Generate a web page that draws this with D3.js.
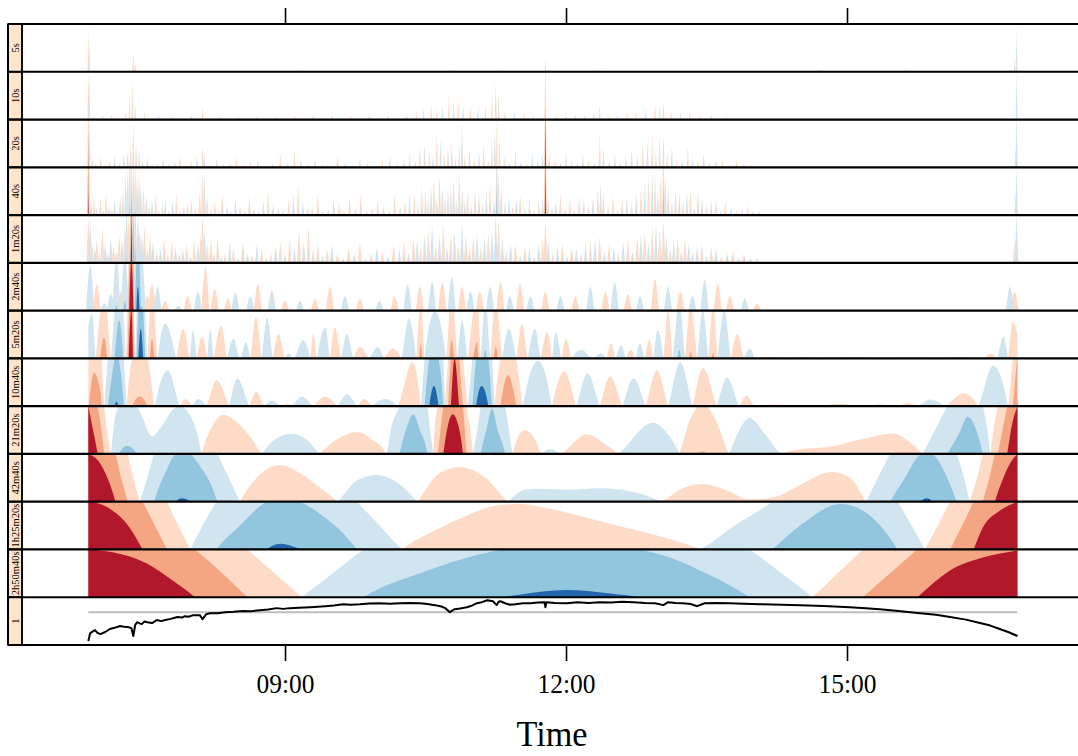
<!DOCTYPE html>
<html><head><meta charset="utf-8">
<script src="https://cdn.jsdelivr.net/npm/d3@7/dist/d3.min.js"></script>
<style>body{margin:0;background:#fff}svg{display:block}</style>
</head><body><svg id="chart" width="1078" height="756"></svg>
<script>
// ---------- DATA (time in decimal hours, value in horizon band units) ----------
const panelLabels = ["5s","10s","20s","40s","1m20s","2m40s","5m20s","10m40s","21m20s","42m40s","1h25m20s","2h50m40s","1"];
const tickHours = [9, 12, 15];

// fine scales: local extremes [hour, value]
const d5s = [[6.90,0.9],[6.91,-0.6],[7.38,0.45],[7.40,0.2],[9.16,0.04],[10.76,0.06],[11.30,-0.06],[11.78,0.25],[12.36,0.05],[14.71,0.08],[15.62,0.08],[16.79,0.3],[16.81,-0.9]];
const d10s = [[6.90,1.0],[6.91,-0.95],[6.96,0.1],[7.05,-0.1],[7.15,0.1],[7.30,0.2],[7.34,0.5],[7.37,0.85],[7.40,-0.3],[7.50,0.15],[7.65,-0.1],[7.80,0.1],[8.00,0.1],[8.12,0.25],[8.30,-0.1],[8.50,0.1],[8.70,0.08],[8.90,-0.08],[9.10,0.12],[9.30,-0.1],[9.50,0.1],[9.70,0.1],[9.90,-0.1],[10.10,0.12],[10.30,-0.15],[10.40,0.2],[10.48,-0.25],[10.56,0.3],[10.62,0.25],[10.68,-0.3],[10.75,0.55],[10.80,-0.4],[10.85,0.45],[10.90,-0.3],[10.98,0.3],[11.06,-0.25],[11.14,0.3],[11.21,0.55],[11.25,-0.8],[11.28,0.6],[11.35,0.2],[11.45,-0.15],[11.55,0.15],[11.65,-0.12],[11.78,1.3],[11.90,0.12],[12.00,-0.1],[12.10,0.12],[12.20,0.1],[12.30,-0.15],[12.36,0.3],[12.45,0.12],[12.55,-0.1],[12.65,0.15],[12.75,0.2],[12.85,-0.25],[12.95,0.35],[13.00,-0.3],[13.04,0.4],[13.12,0.2],[13.22,-0.15],[13.32,0.15],[13.42,0.12],[13.55,-0.1],[13.70,0.08],[16.81,-1.0]];
const d20s = [[6.90,1.8],[6.91,-1.0],[6.94,0.2],[6.98,-0.1],[7.03,0.25],[7.08,-0.08],[7.13,0.15],[7.18,-0.25],[7.23,0.1],[7.28,0.3],[7.32,-0.35],[7.35,0.5],[7.38,0.9],[7.41,-0.5],[7.44,0.35],[7.48,-0.15],[7.53,0.25],[7.58,-0.08],[7.64,0.1],[7.70,-0.2],[7.76,0.08],[7.82,-0.12],[7.88,0.25],[7.94,-0.05],[8.00,0.12],[8.06,-0.25],[8.12,0.45],[8.14,-0.3],[8.20,0.1],[8.27,-0.2],[8.34,0.08],[8.41,-0.1],[8.48,0.25],[8.56,-0.05],[8.63,0.12],[8.71,-0.15],[8.79,0.05],[8.87,-0.08],[8.95,0.3],[9.03,-0.1],[9.10,0.35],[9.17,-0.15],[9.24,0.1],[9.32,-0.2],[9.40,0.08],[9.48,-0.05],[9.56,0.25],[9.64,-0.1],[9.72,0.05],[9.80,-0.2],[9.88,0.1],[9.96,-0.05],[10.04,0.15],[10.12,-0.25],[10.20,0.1],[10.27,-0.2],[10.33,0.3],[10.39,-0.15],[10.44,0.45],[10.49,-0.5],[10.54,0.35],[10.58,-0.25],[10.62,0.7],[10.66,-0.6],[10.70,0.3],[10.74,-0.45],[10.78,0.55],[10.82,-0.2],[10.86,0.5],[10.89,-0.9],[10.92,0.25],[10.97,-0.4],[11.02,0.2],[11.07,-0.35],[11.12,0.5],[11.17,-0.15],[11.21,0.6],[11.24,-0.8],[11.26,1.0],[11.29,-0.6],[11.34,0.25],[11.40,-0.1],[11.46,0.35],[11.52,-0.15],[11.58,0.1],[11.64,-0.3],[11.70,0.2],[11.75,-0.3],[11.78,3.0],[11.82,-0.3],[11.88,0.15],[11.94,-0.1],[12.00,0.35],[12.06,-0.15],[12.12,0.1],[12.18,-0.3],[12.24,0.2],[12.30,-0.1],[12.36,0.7],[12.40,-0.4],[12.46,0.15],[12.52,-0.3],[12.58,0.1],[12.64,-0.2],[12.70,0.4],[12.76,-0.25],[12.82,0.5],[12.87,-0.55],[12.92,0.7],[12.96,-0.35],[13.00,0.75],[13.04,-0.7],[13.08,0.3],[13.13,-0.45],[13.18,0.2],[13.24,-0.15],[13.30,0.45],[13.35,-0.2],[13.41,0.15],[13.47,-0.3],[13.53,0.1],[13.60,-0.2],[13.67,0.2],[13.74,-0.05],[13.82,0.15],[13.90,-0.1],[13.98,0.05],[16.80,0.4],[16.81,-1.2]];
const d40s = [[6.90,2.5],[6.93,-0.3],[6.96,0.4],[6.99,-0.15],[7.03,0.35],[7.06,-0.1],[7.09,0.45],[7.12,-0.2],[7.15,0.15],[7.18,-0.35],[7.21,0.1],[7.24,-0.4],[7.27,0.55],[7.30,-0.9],[7.32,1.0],[7.34,-1.3],[7.36,1.6],[7.38,-1.1],[7.40,1.2],[7.42,-0.9],[7.44,0.9],[7.46,-0.7],[7.49,0.6],[7.52,-0.4],[7.55,0.2],[7.58,-0.3],[7.62,0.45],[7.65,-0.1],[7.69,0.2],[7.72,-0.35],[7.76,0.1],[7.80,-0.3],[7.84,0.45],[7.88,-0.1],[7.92,0.2],[7.96,-0.25],[8.00,0.35],[8.04,-0.15],[8.09,0.5],[8.12,1.0],[8.14,-0.9],[8.17,0.4],[8.21,-0.15],[8.25,0.3],[8.29,-0.1],[8.33,0.45],[8.38,-0.2],[8.42,0.1],[8.47,-0.35],[8.52,0.2],[8.57,-0.1],[8.62,0.4],[8.67,-0.15],[8.72,0.1],[8.77,-0.3],[8.82,0.5],[8.87,-0.2],[8.93,0.15],[8.98,-0.1],[9.04,0.35],[9.09,-0.45],[9.14,0.65],[9.19,-0.3],[9.24,0.2],[9.29,-0.15],[9.35,0.45],[9.40,-0.1],[9.46,0.15],[9.52,-0.35],[9.58,0.25],[9.63,-0.1],[9.69,0.4],[9.75,-0.15],[9.81,0.5],[9.87,-0.1],[9.93,0.15],[9.99,-0.3],[10.05,0.2],[10.11,-0.1],[10.17,0.45],[10.23,-0.2],[10.28,0.3],[10.33,-0.4],[10.38,0.45],[10.42,-0.2],[10.46,0.6],[10.50,-0.5],[10.53,0.35],[10.56,-0.6],[10.59,0.8],[10.62,-0.3],[10.65,0.9],[10.68,-0.6],[10.71,0.4],[10.74,-0.55],[10.77,0.6],[10.80,-0.8],[10.83,0.35],[10.86,-0.9],[10.89,0.6],[10.92,-0.3],[10.95,0.5],[10.99,-0.2],[11.03,0.55],[11.07,-0.45],[11.11,0.25],[11.15,-0.5],[11.19,0.7],[11.23,-0.3],[11.26,-1.6],[11.28,1.0],[11.31,-0.6],[11.35,0.3],[11.39,-0.4],[11.43,0.2],[11.47,-0.35],[11.51,0.45],[11.56,-0.15],[11.61,0.35],[11.66,-0.1],[11.71,0.3],[11.75,-0.4],[11.78,3.0],[11.81,-0.4],[11.85,0.2],[11.89,-0.3],[11.94,0.45],[11.99,-0.15],[12.04,0.35],[12.09,-0.1],[12.14,0.4],[12.19,-0.35],[12.24,0.2],[12.29,-0.4],[12.34,0.6],[12.37,-0.7],[12.40,0.5],[12.45,-0.2],[12.50,0.4],[12.55,-0.1],[12.60,0.35],[12.65,-0.4],[12.70,0.25],[12.75,-0.45],[12.80,0.6],[12.84,-0.7],[12.88,0.8],[12.92,-0.9],[12.95,0.9],[12.98,-0.5],[13.01,0.8],[13.04,1.6],[13.06,-0.8],[13.09,0.6],[13.13,-0.3],[13.17,0.55],[13.21,-0.45],[13.25,0.3],[13.29,-0.5],[13.33,0.55],[13.37,-0.2],[13.41,0.5],[13.45,-0.35],[13.50,0.2],[13.55,-0.3],[13.60,0.35],[13.65,-0.1],[13.70,0.3],[13.76,-0.2],[13.82,0.1],[13.88,-0.15],[13.94,0.2],[14.00,-0.1],[14.06,0.1],[16.80,0.5],[16.81,-1.0]];
const d1m20s = [[6.90,0.95],[6.92,-0.95],[6.94,0.4],[6.97,-0.3],[6.99,0.5],[7.02,-0.2],[7.05,0.75],[7.08,-0.4],[7.11,0.2],[7.14,-0.55],[7.17,0.35],[7.20,-0.25],[7.23,0.6],[7.26,-0.5],[7.29,0.8],[7.31,-1.2],[7.33,1.0],[7.35,-0.9],[7.36,3.0],[7.38,-2.0],[7.40,1.4],[7.43,-1.0],[7.45,0.7],[7.47,-0.6],[7.50,0.8],[7.53,-0.3],[7.56,0.6],[7.59,-0.45],[7.63,0.25],[7.67,-0.3],[7.71,0.5],[7.75,-0.2],[7.79,0.45],[7.83,-0.35],[7.87,0.2],[7.91,-0.3],[7.95,0.4],[7.99,-0.15],[8.03,0.45],[8.07,-0.4],[8.10,0.6],[8.12,1.0],[8.14,-0.7],[8.17,0.4],[8.21,0.5],[8.24,-0.2],[8.28,0.55],[8.32,-0.15],[8.36,0.2],[8.41,-0.45],[8.45,0.3],[8.50,-0.1],[8.55,0.45],[8.60,-0.2],[8.65,0.15],[8.70,-0.4],[8.75,0.3],[8.80,-0.1],[8.85,0.2],[8.90,-0.35],[8.95,0.45],[9.00,-0.2],[9.05,0.5],[9.10,-0.3],[9.15,0.7],[9.20,-0.45],[9.25,0.75],[9.30,-0.3],[9.35,0.4],[9.40,-0.15],[9.45,0.3],[9.50,-0.4],[9.56,0.2],[9.62,-0.1],[9.68,0.35],[9.74,-0.2],[9.80,0.45],[9.86,-0.1],[9.92,0.2],[9.98,-0.35],[10.04,0.25],[10.10,-0.15],[10.16,0.4],[10.22,-0.3],[10.27,0.45],[10.32,-0.2],[10.37,0.55],[10.41,-0.5],[10.45,0.35],[10.49,-0.6],[10.53,0.7],[10.57,-0.8],[10.61,0.4],[10.65,-0.6],[10.69,0.8],[10.73,-0.35],[10.77,0.6],[10.81,-0.65],[10.85,0.4],[10.89,-0.8],[10.93,0.6],[10.97,-0.3],[11.01,0.55],[11.05,-0.6],[11.09,0.35],[11.13,-0.55],[11.17,0.6],[11.21,-0.7],[11.25,-1.0],[11.28,0.9],[11.32,-0.5],[11.36,0.25],[11.41,-0.4],[11.46,0.4],[11.51,-0.15],[11.56,0.35],[11.61,-0.3],[11.66,0.15],[11.71,-0.4],[11.75,0.5],[11.78,0.9],[11.81,-0.5],[11.86,0.2],[11.91,-0.35],[11.96,0.4],[12.01,-0.15],[12.06,0.35],[12.11,-0.3],[12.16,0.2],[12.21,-0.4],[12.26,0.45],[12.31,-0.5],[12.36,0.55],[12.41,-0.25],[12.46,0.4],[12.51,-0.35],[12.56,0.2],[12.61,-0.45],[12.66,0.5],[12.71,-0.25],[12.76,0.55],[12.80,-0.6],[12.84,0.65],[12.88,-0.4],[12.92,0.75],[12.96,-0.8],[13.00,0.7],[13.04,0.9],[13.07,-0.6],[13.11,0.3],[13.15,-0.45],[13.19,0.5],[13.23,-0.25],[13.27,0.5],[13.31,-0.4],[13.35,0.25],[13.40,-0.35],[13.45,0.4],[13.50,-0.15],[13.55,0.35],[13.60,-0.3],[13.66,0.15],[13.72,-0.2],[13.78,0.25],[13.84,-0.1],[13.90,0.2],[13.97,-0.1],[14.04,0.1],[16.79,0.5],[16.81,-1.0]];
const d2m40s = [[6.92,-0.95],[6.99,0.55],[7.07,-0.15],[7.14,-0.35],[7.20,-1.1],[7.25,0.4],[7.29,-1.2],[7.36,3.0],[7.39,-0.8],[7.43,-2.5],[7.47,-1.1],[7.53,0.3],[7.58,0.55],[7.64,-0.5],[7.72,0.2],[7.86,-0.1],[7.96,0.3],[8.07,-0.4],[8.15,0.9],[8.25,0.45],[8.39,0.25],[8.47,-0.38],[8.63,-0.3],[8.71,0.55],[8.86,-0.42],[9.00,0.2],[9.16,-0.2],[9.32,0.25],[9.48,0.5],[9.64,-0.3],[9.80,0.25],[10.01,-0.2],[10.17,0.3],[10.31,-0.55],[10.44,0.5],[10.57,-0.6],[10.68,0.6],[10.78,-0.7],[10.89,0.5],[10.98,-0.4],[11.08,0.4],[11.19,-0.5],[11.30,0.6],[11.40,-0.3],[11.51,0.55],[11.62,-0.3],[11.78,0.4],[11.94,-0.3],[12.10,0.3],[12.26,-0.5],[12.42,0.4],[12.52,-0.6],[12.66,0.35],[12.79,-0.3],[12.95,0.65],[13.09,-0.5],[13.22,0.4],[13.35,-0.3],[13.48,-0.65],[13.62,0.55],[13.75,0.3],[13.91,-0.25],[14.04,0.15],[16.74,-0.5],[16.79,0.4]];

// coarser scales: sampled curve [hour, value]
const d5m20s = [[6.90,-0.7],[6.94,-0.93],[6.98,0],[7.07,1.44],[7.14,0],[7.23,-1.79],[7.30,0],[7.36,3.0],[7.40,0],[7.46,-2.62],[7.53,0],[7.58,1.41],[7.64,0],[7.72,-0.73],[7.84,0],[7.91,0.62],[7.98,0],[8.02,-0.6],[8.06,0],[8.11,0.44],[8.17,0],[8.20,-0.62],[8.24,0],[8.32,0.69],[8.38,0],[8.45,-0.41],[8.52,0],[8.58,-0.34],[8.63,0],[8.69,0.87],[8.75,0],[8.81,-0.85],[8.87,0],[8.93,0.51],[9.00,0],[9.04,-0.11],[9.09,0],[9.19,-0.38],[9.27,0],[9.30,0.51],[9.34,0],[9.43,-0.65],[9.48,0],[9.53,0.65],[9.60,0],[9.66,-0.51],[9.73,0],[9.80,0.24],[9.90,0],[9.99,-0.24],[10.06,0],[10.15,0.2],[10.24,0],[10.32,-0.83],[10.40,0],[10.45,1.3],[10.49,0],[10.60,-0.98],[10.72,0],[10.78,1.39],[10.84,0],[10.89,-0.8],[10.95,0],[11.05,1.34],[11.09,0],[11.14,-1.17],[11.19,0],[11.25,1.24],[11.32,0],[11.39,-0.62],[11.47,0],[11.53,0.72],[11.59,0],[11.67,-0.62],[11.73,0],[11.80,0.55],[11.85,0],[11.89,-0.55],[11.95,0],[12.00,0.41],[12.06,0],[12.17,-0.18],[12.28,0],[12.37,-0.11],[12.43,0],[12.48,0.32],[12.53,0],[12.59,-0.27],[12.64,0],[12.69,0.18],[12.74,0],[12.79,-0.31],[12.84,0],[12.89,0.4],[12.93,0],[12.98,-0.6],[13.04,0],[13.09,1.0],[13.14,0],[13.21,-1.18],[13.27,0],[13.33,1.13],[13.40,0],[13.46,-1.0],[13.52,0],[13.57,1.13],[13.62,0],[13.69,-1.0],[13.76,0],[13.83,0.51],[13.90,0],[13.97,-0.2],[14.02,0],[14.18,0.03],[14.39,0],[14.55,-0.03],[14.71,0],[15.03,0.03],[15.35,0],[15.67,-0.02],[15.99,0],[16.21,0.03],[16.45,0],[16.53,0.1],[16.60,0],[16.67,-0.46],[16.72,0],[16.77,0.77],[16.82,0.5]];
const d10m40s = [[6.90,0.9],[6.96,1.7],[7.03,1.3],[7.07,0],[7.11,-1.0],[7.15,-1.6],[7.20,-2.1],[7.24,-1.8],[7.28,-1.0],[7.31,0],[7.37,1.0],[7.45,1.2],[7.53,1.0],[7.61,0],[7.75,-0.75],[7.88,0],[7.94,0.15],[8.01,0],[8.07,-0.15],[8.16,0],[8.27,0.54],[8.40,0],[8.49,-0.58],[8.62,0],[8.69,0.3],[8.78,0],[8.86,-0.12],[8.96,0],[9.03,0.05],[9.07,0],[9.18,-0.2],[9.30,0],[9.43,0.2],[9.56,0],[9.66,-0.25],[9.77,0],[9.85,0.15],[9.93,0],[10.07,-0.15],[10.20,0],[10.36,0.92],[10.45,0],[10.49,-1.0],[10.54,-2.0],[10.59,-2.42],[10.64,-2.0],[10.69,-1.0],[10.71,0],[10.74,1.0],[10.77,2.0],[10.81,3.0],[10.86,2.0],[10.90,1.0],[10.95,0],[11.00,-1.0],[11.04,-2.0],[11.10,-2.42],[11.17,-2.0],[11.21,-1.0],[11.24,0],[11.30,1.0],[11.38,1.65],[11.47,1.0],[11.54,0],[11.62,-0.7],[11.70,-0.95],[11.79,-0.6],[11.85,0],[11.98,0.73],[12.11,0],[12.23,-0.69],[12.36,0],[12.47,0.62],[12.60,0],[12.72,-0.58],[12.85,0],[12.97,0.75],[13.09,0],[13.22,-0.92],[13.35,0],[13.46,0.8],[13.61,0],[13.72,-0.6],[13.85,0],[13.93,0.22],[14.02,0],[14.23,0.04],[14.39,0],[14.50,-0.03],[14.69,0],[14.93,0.05],[15.14,0],[15.35,0.04],[15.51,0],[15.65,0.06],[15.75,0],[15.89,-0.14],[16.05,0],[16.24,0.27],[16.40,0],[16.56,-0.85],[16.72,0],[16.77,1.0],[16.82,2.1]];
const d21m20s = [[6.90,3.0],[6.95,2.5],[7.00,2.0],[7.04,1.5],[7.07,1.0],[7.10,0.5],[7.14,0],[7.18,-0.7],[7.24,-1.05],[7.32,-1.17],[7.40,-1.05],[7.47,-0.8],[7.58,-0.37],[7.69,-0.6],[7.79,-0.9],[7.88,-1.0],[7.99,-0.8],[8.06,-0.45],[8.11,0],[8.23,0.6],[8.34,0.82],[8.52,0.6],[8.65,0.3],[8.75,0],[8.93,-0.35],[9.07,-0.42],[9.23,-0.3],[9.37,0],[9.59,0.35],[9.77,0.46],[9.93,0.3],[10.08,0],[10.14,-0.6],[10.22,-1.0],[10.29,-1.5],[10.37,-1.83],[10.44,-1.5],[10.52,-1.0],[10.55,-0.5],[10.58,0],[10.60,0.6],[10.63,1.0],[10.69,2.0],[10.74,2.6],[10.79,2.83],[10.85,2.6],[10.90,2.0],[10.94,1.0],[10.98,0.5],[11.01,0],[11.06,-0.6],[11.09,-1.0],[11.15,-1.5],[11.21,-1.95],[11.27,-1.5],[11.35,-1.0],[11.39,-0.5],[11.43,0],[11.56,0.5],[11.67,0.3],[11.74,0],[11.83,-0.1],[11.95,0],[12.22,0.41],[12.42,0.2],[12.56,0],[12.93,-0.65],[13.09,-0.4],[13.21,0],[13.32,0.7],[13.46,1.05],[13.60,0.7],[13.74,0],[13.96,-0.75],[14.13,-0.4],[14.30,0],[14.50,0.1],[14.82,0.15],[15.14,0.3],[15.49,0.43],[15.67,0.25],[15.80,0],[15.94,-0.5],[16.07,-1.0],[16.19,-1.4],[16.29,-1.78],[16.38,-1.5],[16.45,-1.0],[16.50,-0.5],[16.53,0],[16.58,0.7],[16.61,1.0],[16.66,1.5],[16.71,2.0],[16.76,2.6],[16.82,3.0]];
const d42m40s = [[6.90,3.0],[7.03,2.79],[7.13,2.37],[7.19,2.0],[7.25,1.5],[7.32,1.0],[7.38,0.5],[7.45,0],[7.53,-0.5],[7.60,-1.0],[7.72,-1.6],[7.83,-2.0],[7.90,-2.07],[7.99,-2.0],[8.09,-1.75],[8.20,-1.4],[8.28,-1.0],[8.40,-0.5],[8.52,0],[8.75,0.6],[8.95,0.77],[9.16,0.6],[9.37,0.3],[9.56,0],[9.77,-0.45],[9.98,-0.56],[10.20,-0.4],[10.41,0],[10.65,0.6],[10.87,0.72],[11.14,0.5],[11.38,0],[11.56,-0.25],[11.72,-0.27],[12.04,-0.25],[12.36,-0.28],[12.68,-0.22],[13.02,0],[13.27,0.3],[13.46,0.37],[13.70,0.25],[13.96,0.05],[14.23,0.1],[14.50,0.35],[14.84,0.62],[15.03,0.5],[15.20,0],[15.33,-0.5],[15.46,-1.0],[15.62,-1.5],[15.76,-1.95],[15.85,-2.07],[15.96,-1.9],[16.07,-1.5],[16.17,-1.0],[16.25,-0.5],[16.31,0],[16.39,0.5],[16.45,1.0],[16.52,1.5],[16.58,2.0],[16.67,2.5],[16.74,2.8],[16.82,3.0]];
const d1h25m20s = [[6.90,3.0],[7.03,2.95],[7.16,2.81],[7.31,2.54],[7.48,2.0],[7.61,1.5],[7.74,1.0],[7.86,0.5],[7.99,0],[8.12,-0.5],[8.27,-1.0],[8.52,-1.5],[8.73,-1.9],[8.95,-2.12],[9.16,-2.0],[9.37,-1.75],[9.59,-1.4],[9.77,-1.0],[10.01,-0.5],[10.25,0],[10.55,0.35],[10.87,0.65],[11.26,0.92],[11.51,0.95],[11.83,0.85],[12.15,0.7],[12.54,0.5],[12.90,0.33],[13.22,0.15],[13.43,0],[13.80,-0.5],[14.20,-1.0],[14.50,-1.5],[14.93,-1.95],[15.25,-1.7],[15.54,-1.0],[15.69,-0.5],[15.83,0],[15.97,0.5],[16.10,1.0],[16.23,1.5],[16.35,2.0],[16.45,2.46],[16.63,2.81],[16.82,3.0]];
const d2h50m40s = [[6.90,3.0],[7.16,2.94],[7.53,2.7],[7.80,2.35],[8.04,2.0],[8.33,1.5],[8.60,1.0],[8.89,0.5],[9.18,0],[9.51,-0.5],[9.84,-1.0],[10.44,-1.5],[11.08,-1.9],[11.50,-2.05],[12.00,-2.15],[12.47,-2.08],[12.84,-1.98],[13.22,-1.75],[13.43,-1.56],[13.70,-1.3],[13.96,-1.0],[14.30,-0.5],[14.63,0],[14.90,0.5],[15.17,1.0],[15.46,1.5],[15.75,2.0],[16.10,2.56],[16.45,2.83],[16.82,2.98]];
// smooth component (level relative to mean line)
const smooth1 = [[6.90,-1.93],[6.92,-1.4],[6.97,-1.2],[7.00,-1.4],[7.03,-1.47],[7.08,-1.33],[7.13,-1.13],[7.18,-1.05],[7.24,-0.93],[7.28,-0.98],[7.32,-1.0],[7.36,-1.07],[7.38,-1.6],[7.40,-0.87],[7.42,-0.67],[7.45,-0.75],[7.47,-0.8],[7.50,-0.62],[7.53,-0.67],[7.58,-0.73],[7.63,-0.53],[7.68,-0.6],[7.72,-0.53],[7.78,-0.45],[7.85,-0.33],[7.90,-0.36],[7.93,-0.27],[7.97,-0.31],[8.02,-0.2],[8.09,-0.2],[8.12,-0.47],[8.16,-0.13],[8.20,-0.07],[8.28,-0.08],[8.36,0],[8.45,0.02],[8.55,0.07],[8.63,0.06],[8.73,0.13],[8.82,0.18],[8.91,0.27],[8.98,0.22],[9.05,0.27],[9.15,0.3],[9.27,0.33],[9.35,0.36],[9.43,0.4],[9.52,0.45],[9.62,0.53],[9.70,0.5],[9.80,0.53],[9.90,0.58],[10.01,0.6],[10.12,0.56],[10.23,0.6],[10.33,0.62],[10.44,0.6],[10.52,0.55],[10.60,0.47],[10.67,0.38],[10.71,0.27],[10.76,0],[10.81,0.2],[10.87,0.25],[10.94,0.33],[11.00,0.45],[11.05,0.6],[11.10,0.67],[11.16,0.8],[11.22,0.73],[11.26,0.47],[11.28,0.7],[11.30,0.73],[11.35,0.6],[11.40,0.5],[11.46,0.53],[11.54,0.6],[11.62,0.6],[11.70,0.64],[11.77,0.67],[11.78,0.33],[11.79,0.67],[11.88,0.62],[12.01,0.6],[12.12,0.66],[12.24,0.62],[12.36,0.67],[12.48,0.64],[12.60,0.7],[12.72,0.67],[12.84,0.62],[12.95,0.6],[13.04,0.47],[13.09,0.67],[13.17,0.62],[13.25,0.6],[13.33,0.55],[13.40,0.4],[13.48,0.6],[13.60,0.62],[13.75,0.6],[13.90,0.56],[14.07,0.53],[14.30,0.5],[14.50,0.47],[14.75,0.42],[15.03,0.33],[15.20,0.27],[15.35,0.2],[15.55,0.08],[15.78,-0.07],[15.95,-0.18],[16.10,-0.33],[16.27,-0.5],[16.42,-0.73],[16.53,-0.9],[16.63,-1.13],[16.72,-1.33],[16.82,-1.6]];
const meanLine = [[6.90,0],[16.82,0]];

// ---------- LAYOUT / STYLE ----------
const W = 1078, TOP = 24, BOT = 645, STRIP0 = 8, PX0 = 22, PX1 = 1078;
const nP = panelLabels.length, PH = (BOT - TOP) / nP;
const posCols = ["#fddbc7", "#f4a582", "#b2182b"];
const negCols = ["#d1e5f0", "#92c5de", "#2166ac"];
const toDate = h => new Date(2000, 0, 1, 0, 0, Math.round(h * 3600));
const x = d3.scaleTime().domain([toDate(6.192), toDate(17.466)]).range([PX0, PX1]);

const svg = d3.select("#chart");
const defs = svg.append("defs");

const spikePanels = [
  {data: d5s, hw: 0.9, curve: d3.curveLinear},
  {data: d10s, hw: 1.0, curve: d3.curveLinear},
  {data: d20s, hw: 1.1, curve: d3.curveLinear},
  {data: d40s, hw: 1.4, curve: d3.curveLinear},
  {data: d1m20s, hw: 2.0, curve: d3.curveLinear},
  {data: d2m40s, hw: 4.0, curve: d3.curveMonotoneX}
];
const curvePanels = [d5m20s, d10m40s, d21m20s, d42m40s, d1h25m20s, d2h50m40s];

function panelTop(i) { return TOP + i * PH; }

function drawHorizonBands(g, i, buildPath) {
  const top = panelTop(i), base = top + PH;
  const id = "clip" + i;
  defs.append("clipPath").attr("id", id).append("rect")
    .attr("x", PX0).attr("y", top).attr("width", PX1 - PX0).attr("height", PH);
  const cg = g.append("g").attr("clip-path", `url(#${id})`);
  for (let k = 0; k < 3; k++) {
    [1, -1].forEach(s => {
      const yv = v => base - (s * v - k) * PH;
      cg.append("path").attr("d", buildPath(yv, base))
        .attr("fill", s > 0 ? posCols[k] : negCols[k]).attr("stroke", "none");
    });
  }
}

const plot = svg.append("g");

spikePanels.forEach((p, i) => {
  drawHorizonBands(plot, i, (yv, base) => {
    const area = d3.area().x(d => d[0]).y0(base).y1(d => d[1]).curve(p.curve);
    return p.data.map(([t, v]) => {
      const cx = x(toDate(t));
      return area([[cx - p.hw, yv(0)], [cx, yv(v)], [cx + p.hw, yv(0)]]);
    }).join("");
  });
});

curvePanels.forEach((data, j) => {
  const i = j + spikePanels.length;
  drawHorizonBands(plot, i, (yv, base) => {
    const area = d3.area().x(d => x(toDate(d[0]))).y0(base).y1(d => yv(d[1])).curve(d3.curveMonotoneX);
    return area(data);
  });
});

// last panel: smooth component
{
  const i = nP - 1, top = panelTop(i);
  const y = d3.scaleLinear().domain([-2.2, 1]).range([top + PH, top]);
  const line = d3.line().x(d => x(toDate(d[0]))).y(d => y(d[1]));
  plot.append("path").attr("d", line(meanLine)).attr("fill", "none").attr("stroke", "#bebebe").attr("stroke-width", 2);
  plot.append("path").attr("d", line(smooth1)).attr("fill", "none").attr("stroke", "#000").attr("stroke-width", 2).attr("stroke-linejoin", "round");
}

// strips and frame
const frame = svg.append("g");
panelLabels.forEach((lab, i) => {
  const top = panelTop(i);
  frame.append("rect").attr("x", STRIP0).attr("y", top).attr("width", PX0 - STRIP0).attr("height", PH)
    .attr("fill", "#ffe5cc").attr("stroke", "#000").attr("stroke-width", 1.5);
  frame.append("text").attr("transform", `translate(${(STRIP0 + PX0) / 2 + 3.5},${top + PH / 2}) rotate(-90)`)
    .attr("text-anchor", "middle").attr("font-family", "Liberation Serif, serif").attr("font-size", 10.5)
    .attr("fill", "#000").text(lab);
});
for (let i = 0; i <= nP; i++) {
  const yy = panelTop(i);
  frame.append("line").attr("x1", STRIP0).attr("x2", W).attr("y1", yy).attr("y2", yy)
    .attr("stroke", "#000").attr("stroke-width", 2.2);
}
frame.append("line").attr("x1", STRIP0).attr("x2", STRIP0).attr("y1", TOP).attr("y2", BOT).attr("stroke", "#000").attr("stroke-width", 2);
frame.append("line").attr("x1", PX0).attr("x2", PX0).attr("y1", TOP).attr("y2", BOT).attr("stroke", "#000").attr("stroke-width", 1.5);

// axes
const ticks = tickHours.map(h => toDate(h));
const axB = d3.axisBottom(x).tickValues(ticks).tickFormat(d3.timeFormat("%H:%M")).tickSize(16).tickPadding(32);
const axT = d3.axisTop(x).tickValues(ticks).tickFormat("").tickSize(16);
const gB = svg.append("g").attr("transform", `translate(0,${BOT})`).call(axB);
const gT = svg.append("g").attr("transform", `translate(0,${TOP})`).call(axT);
[gB, gT].forEach(g => { g.select(".domain").remove(); g.selectAll(".tick line").attr("stroke", "#000").attr("stroke-width", 1.6); });
gB.selectAll(".tick text").attr("font-family", "Liberation Serif, serif").attr("font-size", 27).attr("fill", "#000")
  .attr("dy", null).attr("textLength", 58).attr("lengthAdjust", "spacingAndGlyphs");

svg.append("text").attr("x", 552).attr("y", 746).attr("text-anchor", "middle")
  .attr("font-family", "Liberation Serif, serif").attr("font-size", 35).attr("fill", "#000")
  .attr("textLength", 71).attr("lengthAdjust", "spacingAndGlyphs").text("Time");
</script></body></html>
